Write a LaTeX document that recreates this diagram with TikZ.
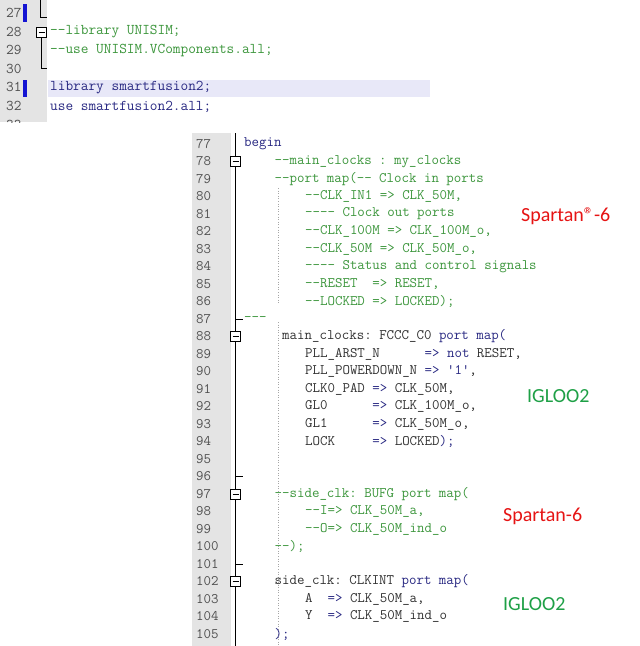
\documentclass[tikz,border=0pt]{standalone}
\usepackage{fontspec}
\setmonofont{Latin Modern Mono}[Ligatures=NoCommon]
\newfontfamily\lab{Carlito}
\definecolor{cm}{RGB}{60,150,60}
\definecolor{kw}{RGB}{40,40,130}
\definecolor{idc}{RGB}{50,50,50}
\definecolor{gut}{RGB}{228,228,228}
\definecolor{num}{RGB}{80,80,80}
\definecolor{hl}{RGB}{232,232,248}
\definecolor{bar}{RGB}{20,20,210}
\definecolor{lred}{RGB}{230,20,20}
\definecolor{lgreen}{RGB}{30,160,70}
\newcommand\kw[1]{\textcolor{kw}{#1}}
\begin{document}
\begin{tikzpicture}[x=1pt,y=-1pt,
  code/.style={anchor=west,inner sep=0pt,font=\ttfamily\fontsize{14.5}{16}\selectfont,text=idc},
  codet/.style={anchor=west,inner sep=0pt,font=\ttfamily\fontsize{14.9}{16}\selectfont,text=idc},
  numl/.style={anchor=west,inner sep=0pt,font=\ttfamily\fontsize{14.5}{16}\selectfont,text=num},
  numt/.style={anchor=west,inner sep=0pt,font=\ttfamily\fontsize{14.9}{16}\selectfont,text=num},
  foldbox/.style={draw=black,fill=white,line width=0.8pt,minimum size=10pt,inner sep=0pt},
  foldln/.style={draw=black,line width=0.9pt},
  guide/.style={draw=gray!70,dotted,line width=0.6pt},
  lbl/.style={anchor=west,inner sep=0pt,font=\lab\fontsize{20}{22}\selectfont}]
\useasboundingbox (0,0) rectangle (640,646);
\fill[white] (0,0) rectangle (640,646);
% ---------- top panel ----------
\begin{scope}
\clip (0,0) rectangle (440,122);
\fill[gut] (0,0) rectangle (47,122);
\fill[hl] (48,80) rectangle (430,97);
\fill[bar] (23,4) rectangle (27,22);
\fill[bar] (23,80) rectangle (27,97);
\foreach \n [count=\i from 0] in {27,28,29,30,31,32,33}
  \node[numt] (tn\n) at (6,13+18.6*\i) {\n};
\draw[foldln] (40,0) -- (40,17) -- (47,17);
\node[foldbox] (tb28) at (41.5,32) {};
\draw[foldln] (41.5,32) ++(-3,0) -- ++(6,0);
\draw[foldln] (tb28.south) -- (41.5,68) -- (47,68);
\node[codet,text=cm] (t28) at (50,32) {--library~UNISIM;};
\node[codet,text=cm] (t29) at (50,50.5) {--use~UNISIM.VComponents.all;};
\node[codet,text=kw] (t31) at (50,87.9) {library~smartfusion2;};
\node[codet,text=kw] (t32) at (50,106.5) {use~smartfusion2.all;};
\end{scope}
% ---------- lower panel ----------
\fill[gut] (192,133) rectangle (231,646);
\foreach \n [count=\i from 0] in {77,...,105}
  \node[numl] (ln\n) at (196,144+17.5*\i) {\n};
\draw[foldln] (235.5,133) -- (235.5,646);
\foreach \n in {78,88,97,102}{
  \node[foldbox] (fb\n) at (235.5,{144+17.5*(\n-77)}) {};
  \draw[foldln] (232.5,{144+17.5*(\n-77)}) -- (238.5,{144+17.5*(\n-77)});
}
\foreach \n in {87,96,101}
  \draw[foldln] (235.5,{144+17.5*(\n-77)}) -- (243,{144+17.5*(\n-77)});
\draw[guide] (278,188) -- (278,304);
\draw[guide] (278,322) -- (278,646);
\node[code,text=kw] (c77) at (244,144) {begin};
\node[code,text=cm] (c78) at (274.5,161.5) {--main\_clocks~:~my\_clocks};
\node[code,text=cm] (c79) at (274.5,179) {--port~map(--~Clock~in~ports};
\node[code,text=cm] (c80) at (305,196.5) {--CLK\_IN1~=>~CLK\_50M,};
\node[code,text=cm] (c81) at (305,214) {----~Clock~out~ports};
\node[code,text=cm] (c82) at (305,231.5) {--CLK\_100M~=>~CLK\_100M\_o,};
\node[code,text=cm] (c83) at (305,249) {--CLK\_50M~=>~CLK\_50M\_o,};
\node[code,text=cm] (c84) at (305,266.5) {----~Status~and~control~signals};
\node[code,text=cm] (c85) at (305,284) {--RESET~~=>~RESET,};
\node[code,text=cm] (c86) at (305,301.5) {--LOCKED~=>~LOCKED);};
\node[code,text=cm] (c87) at (244,319) {---};
\node[code] (c88) at (282,336.5) {main\_clocks:~FCCC\_C0~\kw{port~map(}};
\node[code] (c89) at (305,354) {PLL\_ARST\_N~~~~~~\kw{=>~not}~RESET,};
\node[code] (c90) at (305,371.5) {PLL\_POWERDOWN\_N~\kw{=>~'1'},};
\node[code] (c91) at (305,389) {CLK0\_PAD~\kw{=>}~CLK\_50M,};
\node[code] (c92) at (305,406.5) {GL0~~~~~~\kw{=>}~CLK\_100M\_o,};
\node[code] (c93) at (305,424) {GL1~~~~~~\kw{=>}~CLK\_50M\_o,};
\node[code] (c94) at (305,441.5) {LOCK~~~~~\kw{=>}~LOCKED\kw{);}};
\node[code,text=cm] (c97) at (274.5,494) {--side\_clk:~BUFG~port~map(};
\node[code,text=cm] (c98) at (305,511.5) {--I=>~CLK\_50M\_a,};
\node[code,text=cm] (c99) at (305,529) {--O=>~CLK\_50M\_ind\_o};
\node[code,text=cm] (c100) at (274.5,546.5) {--);};
\node[code] (c102) at (274.5,581.5) {side\_clk:~CLKINT~\kw{port~map(}};
\node[code] (c103) at (305,599) {A~~\kw{=>}~CLK\_50M\_a,};
\node[code] (c104) at (305,616.5) {Y~~\kw{=>}~CLK\_50M\_ind\_o};
\node[code,text=kw] (c105) at (274.5,634) {);};
\node[lbl,text=lred] (l1) at (521,216) {Spartan®-6};
\node[lbl,text=lgreen] (l2) at (527,396) {IGLOO2};
\node[lbl,text=lred] (l3) at (503,516) {Spartan-6};
\node[lbl,text=lgreen] (l4) at (503,604) {IGLOO2};
\end{tikzpicture}
\end{document}
